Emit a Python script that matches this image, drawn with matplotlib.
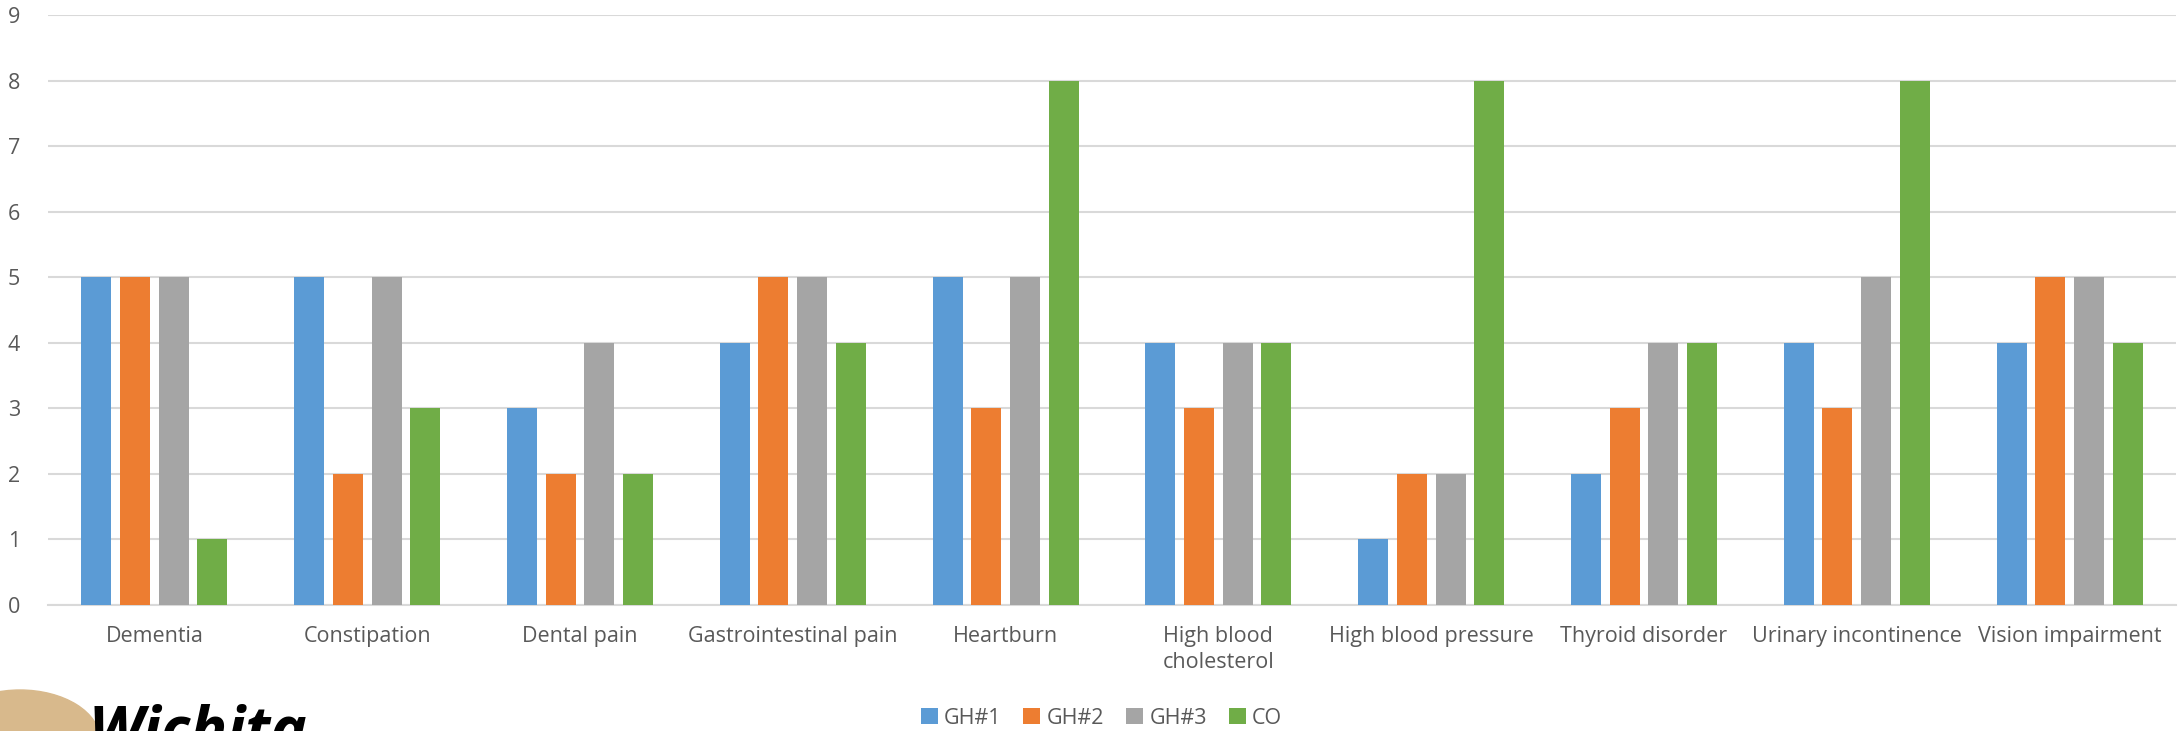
import matplotlib.pyplot as plt
import numpy as np
from matplotlib.patches import Ellipse

categories = ["Dementia", "Constipation", "Dental pain", "Gastrointestinal pain", "Heartburn",
              "High blood\ncholesterol", "High blood pressure", "Thyroid disorder",
              "Urinary incontinence", "Vision impairment"]
gh1 = [5, 5, 3, 4, 5, 4, 1, 2, 4, 4]
gh2 = [5, 2, 2, 5, 3, 3, 2, 3, 3, 5]
gh3 = [5, 5, 4, 5, 5, 4, 2, 4, 5, 5]
co = [1, 3, 2, 4, 8, 4, 8, 4, 8, 4]
series_names = ["GH#1", "GH#2", "GH#3", "CO"]
colors = ["#5B9BD5", "#ED7D31", "#A5A5A5", "#70AD47"]

plt.rcParams['font.family'] = ['Open Sans', 'DejaVu Sans']
textcol = "#595959"

fig = plt.figure(figsize=(21.81, 7.31), dpi=100)
W, H = 2181, 731
ax = fig.add_axes([48 / W, 1 - 605 / H, (2176 - 48) / W, (605 - 15) / H])

x = np.arange(len(categories))
bw = 30 / 212.8
step = 38.7 / 212.8
for i, (vals, name, c) in enumerate(zip([gh1, gh2, gh3, co], series_names, colors)):
    ax.bar(x + (i - 1.5) * step, vals, width=bw, color=c, label=name, zorder=3)

ax.set_xlim(-0.5, len(categories) - 0.5)
ax.set_ylim(0, 9)
ax.set_yticks(range(0, 10))
ax.set_xticks(x)
ax.set_xticklabels(categories, fontsize=15.5, color=textcol, linespacing=1.3)
ax.tick_params(axis='y', labelsize=15.5, labelcolor=textcol, length=0, pad=20)
ax.tick_params(axis='x', length=0, pad=15)
ax.grid(axis='y', color="#D9D9D9", linewidth=1.5, zorder=0)
for s in ['top', 'right', 'left']:
    ax.spines[s].set_visible(False)
ax.spines['bottom'].set_color("#D9D9D9")
ax.spines['bottom'].set_linewidth(1.5)

fig.legend(loc='center', bbox_to_anchor=(0.505, 1 - 718 / H), ncol=4, frameon=False,
           fontsize=15.5, labelcolor=textcol, handlelength=0.8, handleheight=0.8,
           handletextpad=0.3, columnspacing=1.0)

# logo fragment in the bottom-left corner (cut off by the bottom edge, as in the source)
logo = Ellipse((20 / W, 1 - 740 / H), 160 / W, 100 / H, transform=fig.transFigure,
               color="#D8B98C", zorder=0)
fig.patches.append(logo)
fig.text(88 / W, 1 - 750 / H, "Wichita", fontsize=44, fontweight='bold', fontstyle='italic',
         color='black', va='baseline', ha='left')

fig.savefig("out.png", dpi=100)
